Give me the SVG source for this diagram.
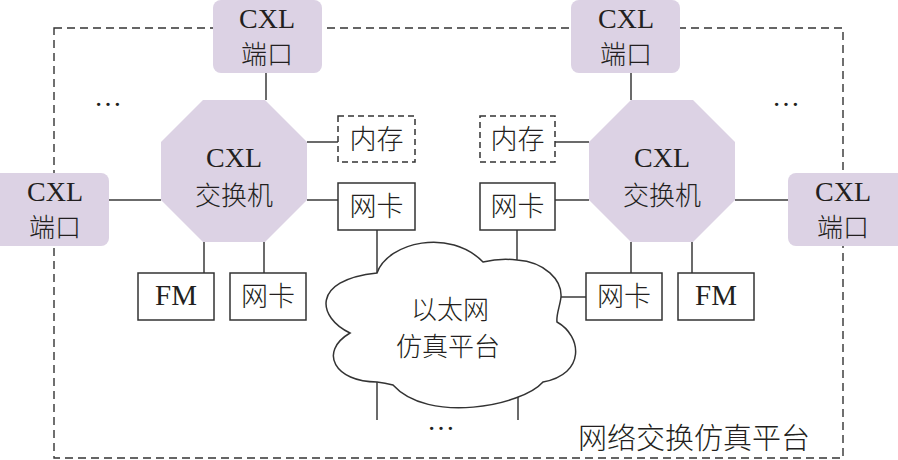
<svg xmlns="http://www.w3.org/2000/svg" width="898" height="460" viewBox="0 0 898 460">
<style>
.ln{stroke:#3a3a3a;stroke-width:1.5;fill:none}
.port{fill:#dcd2e4}
.oct{fill:#dcd2e4}
.box{fill:#fff;stroke:#333;stroke-width:1.5}
.dbox{fill:#fff;stroke:#333;stroke-width:1.5;stroke-dasharray:6 4}
.border{fill:none;stroke:#333;stroke-width:1.4;stroke-dasharray:8 5}
.t{font-family:"Liberation Serif","Noto Sans CJK SC",serif;font-size:28px;fill:#231f20;text-anchor:middle}
.c{font-family:"Noto Sans CJK SC","Liberation Serif",sans-serif;font-size:26px;fill:#231f20;text-anchor:middle;font-weight:300}
</style>
<rect class="border" x="54" y="28" width="789" height="430"/>
<g id="connectors">
<line class="ln" x1="266" y1="73" x2="266" y2="100"/>
<line class="ln" x1="631" y1="73" x2="631" y2="100"/>
<line class="ln" x1="109" y1="200" x2="161" y2="200"/>
<line class="ln" x1="735" y1="200" x2="788" y2="200"/>
<line class="ln" x1="307" y1="142" x2="338" y2="142"/>
<line class="ln" x1="307" y1="200" x2="338" y2="200"/>
<line class="ln" x1="555" y1="142" x2="589" y2="142"/>
<line class="ln" x1="555" y1="200" x2="589" y2="200"/>
<line class="ln" x1="204" y1="242" x2="204" y2="273"/>
<line class="ln" x1="264" y1="242" x2="264" y2="273"/>
<line class="ln" x1="631" y1="242" x2="631" y2="273"/>
<line class="ln" x1="692" y1="242" x2="692" y2="273"/>
<line class="ln" x1="377" y1="230" x2="377" y2="273"/>
<line class="ln" x1="517" y1="230" x2="517" y2="261"/>
<line class="ln" x1="377" y1="382" x2="377" y2="420"/>
<line class="ln" x1="518" y1="393" x2="518" y2="420"/>
<line class="ln" x1="561" y1="297" x2="586" y2="297"/>
</g>
<g id="port-top-left">
<rect class="port" x="213" y="0" width="109" height="73" rx="8"/>
<text class="t" x="267" y="28">CXL</text>
<text class="c" x="267" y="64">端口</text>
</g>
<g id="port-top-right">
<rect class="port" x="571" y="0" width="109" height="73" rx="8"/>
<text class="t" x="626" y="28">CXL</text>
<text class="c" x="626" y="64">端口</text>
</g>
<g id="port-left">
<rect class="port" x="-8" y="173" width="117" height="73" rx="8"/>
<text class="t" x="55" y="201">CXL</text>
<text class="c" x="55" y="237">端口</text>
</g>
<g id="port-right">
<rect class="port" x="788" y="173" width="118" height="73" rx="8"/>
<text class="t" x="843" y="201">CXL</text>
<text class="c" x="843" y="237">端口</text>
</g>
<g id="switch-left">
<polygon class="oct" points="203,100 265,100 307,142 307,200 265,242 203,242 161,200 161,142"/>
<text class="t" x="234" y="167">CXL</text>
<text class="c" x="234" y="205">交换机</text>
</g>
<g id="switch-right">
<polygon class="oct" points="631,100 693,100 735,142 735,200 693,242 631,242 589,200 589,142"/>
<text class="t" x="662" y="167">CXL</text>
<text class="c" x="662" y="205">交换机</text>
</g>
<g id="mem-left">
<rect class="dbox" x="338" y="116" width="77" height="46"/>
<text class="c" x="376.5" y="149" style="font-size:27px">内存</text>
</g>
<g id="mem-right">
<rect class="dbox" x="480" y="116" width="75" height="46"/>
<text class="c" x="517.5" y="149" style="font-size:27px">内存</text>
</g>
<g id="nic-left-upper">
<rect class="box" x="338" y="183" width="77" height="47"/>
<text class="c" x="376.5" y="216" style="font-size:27px">网卡</text>
</g>
<g id="nic-right-upper">
<rect class="box" x="480" y="183" width="75" height="47"/>
<text class="c" x="517.5" y="216" style="font-size:27px">网卡</text>
</g>
<g id="fm-left">
<rect class="box" x="138" y="273" width="76" height="47"/>
<text class="t" x="176" y="305" style="font-size:29px">FM</text>
</g>
<g id="nic-left-lower">
<rect class="box" x="230" y="273" width="76" height="47"/>
<text class="c" x="268" y="306" style="font-size:27px">网卡</text>
</g>
<g id="nic-right-lower">
<rect class="box" x="586" y="273" width="76" height="47"/>
<text class="c" x="624" y="306" style="font-size:27px">网卡</text>
</g>
<g id="fm-right">
<rect class="box" x="678" y="273" width="76" height="47"/>
<text class="t" x="716" y="305" style="font-size:29px">FM</text>
</g>
<g id="cloud">
<path class="box" d="M377,273 C388,242 450,228 483,262 Q500,258 517,260 C545,262 562,280 561,297 C560,306 556,315 557,322 C582,336 586,374 543,382 C522,406 428,424 393,385 Q385,383 377,382 C335,382 318,352 350,333 C318,318 310,280 377,273 Z"/>
<text class="c" x="450" y="319">以太网</text>
<text class="c" x="448" y="356">仿真平台</text>
</g>
<g id="labels">
<text class="t" x="108" y="106">…</text>
<text class="t" x="786" y="106">…</text>
<text class="t" x="441" y="430">…</text>
<text class="c" x="694" y="449" style="font-size:29px">网络交换仿真平台</text>
</g>
</svg>
